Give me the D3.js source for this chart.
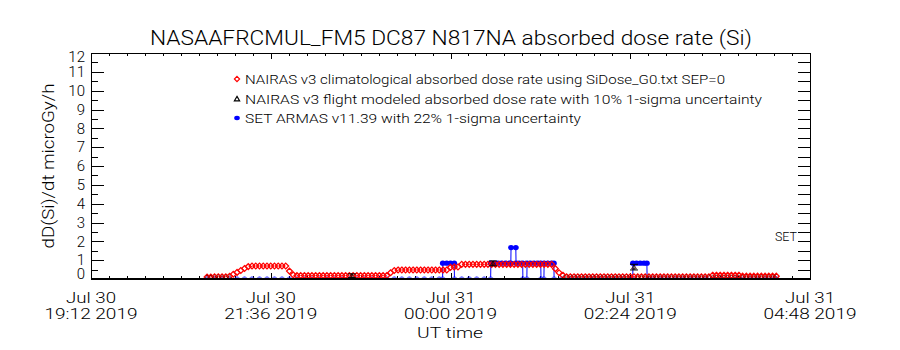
<!DOCTYPE html>
<html><head><meta charset="utf-8">
<script src="https://cdn.jsdelivr.net/npm/d3@7"></script>
<style>
body{margin:0;background:#fff;}
svg{display:block;}
text{font-family:Roboto,"DejaVu Sans",sans-serif;font-weight:300;fill:#000;}
</style></head><body>
<svg id="chart" width="900" height="350"></svg>
<script>
// ---------------- data ----------------
const title = "NASAAFRCMUL_FM5 DC87 N817NA absorbed dose rate (Si)";
const yLabel = "dD(Si)/dt microGy/h";
const xLabel = "UT time";
const rightLabel = "SET";
const legendLabels = [
  "NAIRAS v3 climatological absorbed dose rate using SiDose_G0.txt SEP=0",
  "NAIRAS v3 flight modeled absorbed dose rate with 10% 1-sigma uncertainty",
  "SET ARMAS v11.39 with 22% 1-sigma uncertainty"
];
const xDomain = ["19:12", "04:48"];
const xTickTimes = ["19:12", "21:36", "00:00", "02:24", "04:48"];
const xTickLine1 = ["Jul 30", "Jul 30", "Jul 31", "Jul 31", "Jul 31"];
const xTickLine2 = ["19:12 2019", "21:36 2019", "00:00 2019", "02:24 2019", "04:48 2019"];
const yTicks = [0,1,2,3,4,5,6,7,8,9,10,11,12];

// NAIRAS climatological (red diamonds), sampled every 3 minutes from 20:45
const climStart = "20:45";
const climStepMin = 3;
const climValues = [
  0.10,0.10,0.12,0.12,0.12,0.12,0.14,
  0.25,0.35,0.45,0.56,0.66,
  0.69,0.69,0.69,0.69,0.69,0.69,0.69,0.69,0.69,0.69,
  0.42,0.22,
  0.18,0.18,0.18,0.18,0.18,0.18,0.18,0.18,0.18,0.18,0.18,0.18,0.18,0.18,0.18,0.18,0.18,0.18,0.18,0.18,0.18,0.18,0.18,0.18,0.18,
  0.33,0.45,
  0.48,0.48,0.48,0.48,0.48,0.48,0.48,0.48,0.48,0.48,0.48,0.48,0.48,0.48,
  0.62,0.64,0.64,
  0.78,0.78,0.78,0.78,0.78,0.78,0.78,0.78,0.78,0.78,0.78,0.78,0.78,0.78,0.78,0.78,0.78,0.78,0.78,0.78,0.78,0.78,0.78,0.78,0.78,
  0.55,0.33,0.20,
  0.12,0.12,0.12,0.12,0.12,0.12,0.12,0.12,0.12,0.12,0.12,0.12,0.12,0.12,0.12,0.12,0.12,0.12,0.12,0.12,
  0.12,0.12,0.12,0.12,0.12,0.12,0.12,0.12,0.12,0.12,0.12,0.12,0.12,0.12,0.12,0.12,0.12,0.12,0.12,
  0.20,0.20,0.20,0.20,0.20,0.20,0.20,0.20,
  0.15,0.15,0.15,0.15,0.15,0.15,0.15,0.15,0.15,0.15
];

// NAIRAS flight modeled (black triangles) with 1-sigma errors
const flightTimes = [
  "20:45","20:48","20:51","20:54","20:57","21:00","21:03",
  "22:41",
  "00:34",
  "01:31","01:34","01:37","01:40","01:43","01:46","01:49","01:52","01:55","01:58","02:01","02:04",
  "02:07","02:10","02:13","02:16","02:19","02:22",
  "02:27",
  "02:30","02:33","02:36","02:39","02:42","02:45","02:48","02:51","02:54","02:57","03:00","03:03",
  "03:06","03:09","03:12","03:15","03:18","03:21","03:24","03:27","03:30","03:33","03:36","03:39",
  "03:42","03:45","03:48","03:51","03:54","03:57","04:00","04:03","04:06","04:09","04:12","04:15","04:18","04:20"
];
const flightValues = [
  0.10,0.10,0.10,0.10,0.10,0.10,0.10,
  0.17,
  0.83,
  0.10,0.10,0.10,0.10,0.10,0.10,0.10,0.10,0.10,0.10,0.10,0.10,
  0.10,0.10,0.10,0.10,0.10,0.10,
  0.63,
  0.10,0.10,0.10,0.10,0.10,0.10,0.10,0.10,0.10,0.10,0.10,0.10,
  0.10,0.10,0.10,0.10,0.10,0.10,0.10,0.10,0.10,0.10,0.10,0.10,
  0.10,0.10,0.10,0.10,0.10,0.10,0.10,0.10,0.10,0.10,0.10,0.10,0.10,0.10
];
const flightErr = [
  0,0,0,0,0,0,0,
  0.10,
  0.13,
  0,0,0,0,0,0,0,0,0,0,0,0,
  0,0,0,0,0,0,
  0.15,
  0,0,0,0,0,0,0,0,0,0,0,0,
  0,0,0,0,0,0,0,0,0,0,0,0,
  0,0,0,0,0,0,0,0,0,0,0,0,0,0
];

// SET ARMAS (blue dots)
const armasTimes = [
  "20:45","20:51","20:57","21:03","21:09","21:15","21:21","21:27","21:33","21:39","21:45",
  "21:51","21:57","22:03","22:09","22:15","22:21","22:27","22:33","22:39","22:45","22:51",
  "22:57","23:03","23:09","23:15","23:21","23:27","23:33","23:39","23:45","23:51","23:53:40",
  "23:53:50","23:57","00:00","00:03",
  "00:03:10","00:09","00:15","00:21","00:27","00:32:10",
  "00:32:20","00:35","00:38","00:41","00:44","00:47","00:48:20","00:48:30","00:52:20","00:52:30",
  "00:55","00:57:50","00:58:00","01:01:10","01:01:20","01:04","01:07","01:10","01:12:20","01:12:30",
  "01:14:50","01:15:00","01:18","01:21","01:22:50","01:23:00",
  "01:29","01:35","01:41","01:47","01:53","01:59","02:05","02:11","02:17","02:23","02:26:00",
  "02:26:10","02:29","02:32","02:35","02:37:20","02:37:30",
  "02:43","02:49","02:55","03:01","03:07","03:13","03:19","03:25","03:31","03:37","03:43",
  "03:49","03:55","04:01","04:07","04:13","04:19","04:21"
];
const armasValues = [
  0,0,0,0,0,0,0,0,0,0,0,
  0,0,0,0,0,0,0,0,0,0,0,
  0,0,0,0,0,0,0,0,0,0,0,
  0.84,0.84,0.84,0.84,
  0,0,0,0,0,0,
  0.84,0.84,0.84,0.84,0.84,0.84,0.84,1.67,1.67,0.84,
  0.84,0.84,0,0,0.84,0.84,0.84,0.84,0.84,0,
  0,0.84,0.84,0.84,0.84,0,
  0,0,0,0,0,0,0,0,0,0,0,
  0.84,0.84,0.84,0.84,0.84,0,
  0,0,0,0,0,0,0,0,0,0,0,
  0,0,0,0,0,0,0,0
];

// ---------------- drawing ----------------
const parseT = s => {
  const [h, m, sec] = s.split(":").map(Number);
  const day = h >= 12 ? 30 : 31;
  return new Date(Date.UTC(2019, 6, day, h, m, sec || 0));
};

const svg = d3.select("#chart");
const L = 91, R = 810, T = 53, B = 279;
const x = d3.scaleUtc().domain(xDomain.map(parseT)).range([L, R]);
const y = d3.scaleLinear().domain([0, 12]).range([B, T]);

const defs = svg.append("defs");
defs.append("clipPath").attr("id", "plotclip")
  .append("rect").attr("x", L).attr("y", T).attr("width", R - L).attr("height", B - T);
defs.append("clipPath").attr("id", "blueclip")
  .append("rect").attr("x", L).attr("y", T).attr("width", R - L).attr("height", B - T - 1.5);

// axes (ticks only)
const majorDates = xTickTimes.map(parseT);
const d0 = x.domain()[0].getTime(), d1 = x.domain()[1].getTime();
const minorStep = (majorDates[1] - majorDates[0]) / 10;
const minorDates = d3.range(d0, d1 + 1, minorStep).map(t => new Date(t));
const halfTicks = d3.range(0.5, 12, 0.5);

function styleAxis(g) {
  g.select(".domain").remove();
  g.selectAll("line").attr("stroke", "#000").attr("shape-rendering", "crispEdges");
  g.selectAll("text").remove();
}
svg.append("g").attr("transform", `translate(0,${B})`)
  .call(d3.axisBottom(x).tickValues(minorDates).tickSize(-3).tickFormat("")).call(styleAxis);
svg.append("g").attr("transform", `translate(0,${B})`)
  .call(d3.axisBottom(x).tickValues(majorDates).tickSize(-6).tickFormat("")).call(styleAxis);
svg.append("g").attr("transform", `translate(0,${T})`)
  .call(d3.axisTop(x).tickValues(minorDates).tickSize(-3).tickFormat("")).call(styleAxis);
svg.append("g").attr("transform", `translate(0,${T})`)
  .call(d3.axisTop(x).tickValues(majorDates).tickSize(-6).tickFormat("")).call(styleAxis);
svg.append("g").attr("transform", `translate(${L},0)`)
  .call(d3.axisLeft(y).tickValues(yTicks).tickSize(-13).tickFormat("")).call(styleAxis);
svg.append("g").attr("transform", `translate(${L},0)`)
  .call(d3.axisLeft(y).tickValues(halfTicks.filter(v => v % 1 !== 0)).tickSize(-7).tickFormat("")).call(styleAxis);
svg.append("g").attr("transform", `translate(${R},0)`)
  .call(d3.axisRight(y).tickValues(halfTicks).tickSize(-12).tickFormat("")).call(styleAxis);

// y tick labels
svg.append("g").selectAll("text").data(yTicks).join("text")
  .attr("x", 85)
  .attr("y", d => Math.max(57, Math.min(274, y(d))) + 5.3)
  .attr("text-anchor", "end").attr("font-size", 15)
  .text(d => d);

// x tick labels
const xl = svg.append("g").selectAll("g").data(xTickTimes).join("g")
  .attr("transform", d => `translate(${x(parseT(d))},0)`);
xl.append("text").attr("y", 303).attr("text-anchor", "middle").attr("font-size", 14.5)
  .attr("textLength", 50).attr("lengthAdjust", "spacingAndGlyphs")
  .text((d, i) => xTickLine1[i]);
xl.append("text").attr("y", 319).attr("text-anchor", "middle").attr("font-size", 14.5)
  .attr("textLength", 93).attr("lengthAdjust", "spacingAndGlyphs")
  .text((d, i) => xTickLine2[i]);

// titles
svg.append("text").attr("x", 451).attr("y", 45).attr("text-anchor", "middle")
  .attr("font-size", 19.5).attr("textLength", 602).attr("lengthAdjust", "spacingAndGlyphs").text(title);
svg.append("text").attr("x", 450).attr("y", 338).attr("text-anchor", "middle")
  .attr("font-size", 15).attr("textLength", 66).attr("lengthAdjust", "spacingAndGlyphs").text(xLabel);
svg.append("text").attr("transform", "translate(54,166) rotate(-90)").attr("text-anchor", "middle")
  .attr("font-size", 17).attr("textLength", 165).attr("lengthAdjust", "spacingAndGlyphs").text(yLabel);
svg.append("text").attr("x", 797).attr("y", 241).attr("text-anchor", "end")
  .attr("font-size", 13).attr("textLength", 22).attr("lengthAdjust", "spacingAndGlyphs").text(rightLabel);

// marker shapes
const diamond = r => `M0,${-r}L${r},0L0,${r}L${-r},0Z`;
const triangle = r => `M0,${-r}L${r},${r * 0.7}L${-r},${r * 0.7}Z`;

// SET ARMAS (blue)
const armas = armasTimes.map((t, i) => ({ t: parseT(t), v: armasValues[i] }));
const bp = svg.append("g").attr("clip-path", "url(#blueclip)");
bp.append("path").datum(armas)
  .attr("d", d3.line().x(d => x(d.t)).y(d => y(d.v)))
  .attr("fill", "none").attr("stroke", "#0000ff").attr("stroke-width", 1);
bp.append("g").selectAll("ellipse").data(armas).join("ellipse")
  .attr("cx", d => x(d.t)).attr("cy", d => y(d.v))
  .attr("rx", 2.9).attr("ry", 2.6).attr("fill", "#0000ff");

const plot = svg.append("g").attr("clip-path", "url(#plotclip)");

// NAIRAS climatological (red)
const climT0 = parseT(climStart);
const clim = climValues.map((v, i) => ({ t: d3.utcMinute.offset(climT0, i * climStepMin), v }));
plot.append("g").selectAll("path").data(clim).join("path")
  .attr("transform", d => `translate(${x(d.t)},${y(d.v)})`)
  .attr("d", diamond(2.9)).attr("fill", "none").attr("stroke", "#ff0000").attr("stroke-width", 1.3);

// NAIRAS flight modeled (black)
const flight = flightTimes.map((t, i) => ({ t: parseT(t), v: flightValues[i], e: flightErr[i] }));
const fg = plot.append("g").selectAll("g").data(flight).join("g")
  .attr("transform", d => `translate(${x(d.t)},0)`);
fg.append("path").attr("transform", d => `translate(0,${y(d.v)})`)
  .attr("d", triangle(2.4)).attr("fill", "none").attr("stroke", "#300000").attr("stroke-width", 0.8)
  .attr("stroke-opacity", d => d.e > 0 ? 1 : 0.55);
const fe = fg.filter(d => d.e > 0);
fe.append("line").attr("x1", 0).attr("x2", 0).attr("y1", d => y(d.v - d.e)).attr("y2", d => y(d.v + d.e))
  .attr("stroke", "#000");
fe.append("line").attr("x1", -4).attr("x2", 4).attr("y1", d => y(d.v + d.e)).attr("y2", d => y(d.v + d.e))
  .attr("stroke", "#000");
fe.append("line").attr("x1", -4).attr("x2", 4).attr("y1", d => y(d.v - d.e)).attr("y2", d => y(d.v - d.e))
  .attr("stroke", "#000");

// frame
svg.append("rect").attr("x", L + 0.5).attr("y", T + 0.5).attr("width", R - L).attr("height", B - T)
  .attr("fill", "none").attr("stroke", "#000").attr("stroke-width", 1);
svg.append("line").attr("x1", L).attr("x2", R).attr("y1", B - 0.5).attr("y2", B - 0.5)
  .attr("stroke", "#000").attr("stroke-width", 1);

// legend
const leg = svg.append("g");
const legY = [79, 99, 118];
leg.append("path").attr("transform", `translate(237,${legY[0]})`).attr("d", diamond(2.6))
  .attr("fill", "none").attr("stroke", "#ff0000").attr("stroke-width", 1.2);
leg.append("path").attr("transform", `translate(237,${legY[1]})`).attr("d", triangle(2.6))
  .attr("fill", "none").attr("stroke", "#000").attr("stroke-width", 1.2);
leg.append("ellipse").attr("cx", 237).attr("cy", legY[2]).attr("rx", 2.8).attr("ry", 2.2).attr("fill", "#0000ff");
const legLen = [480, 517, 336];
leg.selectAll("text").data(legendLabels).join("text")
  .attr("x", 245).attr("y", (d, i) => legY[i] + 4.8)
  .attr("font-size", 13.5).attr("textLength", (d, i) => legLen[i]).attr("lengthAdjust", "spacingAndGlyphs")
  .text(d => d);
</script>
</body></html>
